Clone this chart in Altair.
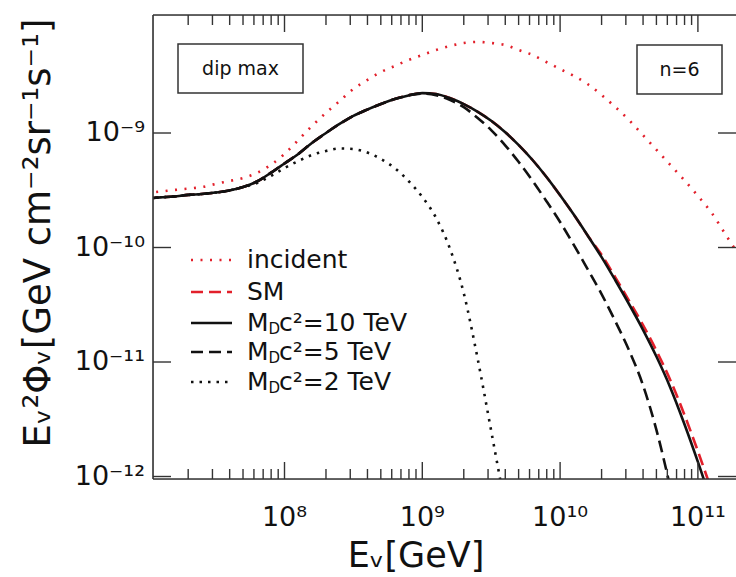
import altair as alt
import pandas as pd

# ---------------- data ----------------
energy_gev = [
    1.00e7, 1.26e7, 1.58e7, 2.00e7, 2.51e7, 3.16e7, 3.98e7, 5.01e7, 6.31e7, 7.94e7,
    1.00e8, 1.26e8, 1.58e8, 2.00e8, 2.51e8, 3.16e8, 3.98e8, 5.01e8, 6.31e8, 7.94e8,
    1.00e9, 1.26e9, 1.58e9, 2.00e9, 2.51e9, 3.16e9, 3.98e9, 5.01e9, 6.31e9, 7.94e9,
    1.00e10, 1.26e10, 1.58e10, 2.00e10, 2.51e10, 3.16e10, 3.98e10, 5.01e10, 6.31e10, 7.94e10,
    1.00e11, 1.26e11, 1.58e11, 2.00e11,
]

flux_incident = [
    2.99e-10, 3.08e-10, 3.18e-10, 3.27e-10, 3.37e-10, 3.59e-10, 3.81e-10, 4.05e-10, 4.48e-10, 5.26e-10,
    6.56e-10, 8.69e-10, 1.15e-9, 1.50e-9, 1.90e-9, 2.42e-9, 2.90e-9, 3.41e-9, 3.85e-9, 4.34e-9,
    4.80e-9, 5.31e-9, 5.75e-9, 6.11e-9, 6.24e-9, 6.11e-9, 5.87e-9, 5.31e-9, 4.80e-9, 4.17e-9,
    3.62e-9, 3.15e-9, 2.68e-9, 2.15e-9, 1.69e-9, 1.30e-9, 9.62e-10, 7.11e-10, 5.26e-10, 3.89e-10,
    2.82e-10, 2.00e-10, 1.31e-10, 8.43e-11,
]

flux_sm = [
    2.68e-10, 2.74e-10, 2.79e-10, 2.88e-10, 2.93e-10, 3.02e-10, 3.15e-10, 3.37e-10, 3.77e-10, 4.48e-10,
    5.42e-10, 6.56e-10, 8.18e-10, 1.00e-9, 1.20e-9, 1.41e-9, 1.60e-9, 1.79e-9, 1.98e-9, 2.13e-9,
    2.23e-9, 2.19e-9, 2.02e-9, 1.79e-9, 1.54e-9, 1.28e-9, 1.02e-9, 7.83e-10, 5.81e-10, 4.15e-10,
    2.86e-10, 1.93e-10, 1.28e-10, 8.63e-11, 5.51e-11, 3.44e-11, 2.12e-11, 1.25e-11, 6.93e-12, 3.52e-12,
    1.66e-12, 7.52e-13, None, None,
]

flux_md10 = [
    2.68e-10, 2.74e-10, 2.79e-10, 2.88e-10, 2.93e-10, 3.02e-10, 3.15e-10, 3.37e-10, 3.77e-10, 4.48e-10,
    5.42e-10, 6.56e-10, 8.18e-10, 1.00e-9, 1.20e-9, 1.41e-9, 1.60e-9, 1.79e-9, 1.98e-9, 2.13e-9,
    2.23e-9, 2.19e-9, 2.02e-9, 1.79e-9, 1.54e-9, 1.28e-9, 1.02e-9, 7.83e-10, 5.81e-10, 4.15e-10,
    2.86e-10, 1.93e-10, 1.28e-10, 8.24e-11, 5.20e-11, 3.21e-11, 1.93e-11, 1.11e-11, 5.97e-12, 2.92e-12,
    1.34e-12, 5.83e-13, None, None,
]

flux_md5 = [
    2.68e-10, 2.74e-10, 2.79e-10, 2.88e-10, 2.93e-10, 3.02e-10, 3.15e-10, 3.37e-10, 3.77e-10, 4.48e-10,
    5.42e-10, 6.56e-10, 8.18e-10, 1.00e-9, 1.20e-9, 1.41e-9, 1.60e-9, 1.79e-9, 1.98e-9, 2.13e-9,
    2.21e-9, 2.14e-9, 1.95e-9, 1.68e-9, 1.36e-9, 1.06e-9, 7.85e-10, 5.58e-10, 3.82e-10, 2.55e-10,
    1.67e-10, 1.05e-10, 6.50e-11, 3.92e-11, 2.28e-11, 1.27e-11, 6.35e-12, 2.53e-12, 8.00e-13, None,
    None, None, None, None,
]

flux_md2 = [
    2.68e-10, 2.74e-10, 2.79e-10, 2.88e-10, 2.93e-10, 3.02e-10, 3.15e-10, 3.37e-10, 3.66e-10, 4.21e-10,
    4.94e-10, 5.69e-10, 6.43e-10, 6.97e-10, 7.33e-10, 7.24e-10, 6.76e-10, 5.93e-10, 4.94e-10, 3.81e-10,
    2.76e-10, 1.81e-10, 9.91e-11, 3.98e-11, 1.10e-11, 2.51e-12, 5.62e-13, None, None, None,
    None, None, None, None, None, None, None, None, None, None,
    None, None, None, None,
]

series_keys = ["incident", "SM", "md10", "md5", "md2"]
series_values = [flux_incident, flux_sm, flux_md10, flux_md5, flux_md2]

x_major_ticks = [1e8, 1e9, 1e10, 1e11]
x_tick_labels = ["10⁸", "10⁹", "10¹⁰", "10¹¹"]
x_minor_multipliers = [2, 3, 4, 5, 6, 7, 8, 9]
x_minor_decades = [1e7, 1e8, 1e9, 1e10]
y_major_ticks = [1e-12, 1e-11, 1e-10, 1e-9]
y_tick_labels = ["10⁻¹²", "10⁻¹¹", "10⁻¹⁰", "10⁻⁹"]

x_title = "Eᵥ[GeV]"
y_title = "Eᵥ²Φᵥ[GeV cm⁻²sr⁻¹s⁻¹]"

# ---------------- layout ----------------
W, H = 583, 464
FONT = "DejaVu Sans"
RED = "#e2202b"
INK = "#111111"
FRAME = "#333333"

X_DOMAIN = [1.111e7, 1.890e11]
Y_DOMAIN = [9.51e-13, 1.073e-8]

rows = []
for key, vals in zip(series_keys, series_values):
    for e, v in zip(energy_gev, vals):
        if v is not None:
            rows.append({"series": key, "energy": e, "flux": v})
df = pd.DataFrame(rows)

x_minor_ticks = [m * d for d in x_minor_decades for m in x_minor_multipliers
                 if X_DOMAIN[0] <= m * d <= X_DOMAIN[1]]
tick_df_xmaj = pd.DataFrame({"v": x_major_ticks, "lab": x_tick_labels})
tick_df_xmin = pd.DataFrame({"v": x_minor_ticks})
tick_df_y = pd.DataFrame({"v": y_major_ticks, "lab": y_tick_labels})
one = pd.DataFrame({"a": [0]})

xs = alt.Scale(type="log", domain=X_DOMAIN, nice=False)
ys = alt.Scale(type="log", domain=Y_DOMAIN, nice=False)


def curve(key, color, width, dash=None):
    kw = dict(color=color, strokeWidth=width, clip=True, interpolate="monotone")
    if dash is not None:
        kw["strokeDash"] = dash
    return alt.Chart(df).transform_filter(alt.datum.series == key).mark_line(**kw).encode(
        x=alt.X("energy:Q", scale=xs, axis=None),
        y=alt.Y("flux:Q", scale=ys, axis=None),
    )


layers = [
    curve("incident", RED, 2.6, [2, 7.5]),
    curve("SM", RED, 2.6, [12, 6]),
    curve("md10", INK, 2.6),
    curve("md5", INK, 2.6, [12, 6]),
    curve("md2", INK, 2.6, [2.5, 6]),
]


# inward ticks on all four sides
def xticks(data, length, top):
    y0 = 0 if top else H
    y1 = length if top else H - length
    return alt.Chart(data).mark_rule(color=FRAME, strokeWidth=1.4).encode(
        x=alt.X("v:Q", scale=xs, axis=None), y=alt.value(y0), y2=alt.value(y1))


def yticks(length, right):
    x0 = W if right else 0
    x1 = W - length if right else length
    return alt.Chart(tick_df_y).mark_rule(color=FRAME, strokeWidth=1.4).encode(
        y=alt.Y("v:Q", scale=ys, axis=None), x=alt.value(x0), x2=alt.value(x1))


layers += [
    xticks(tick_df_xmaj, 17, False), xticks(tick_df_xmin, 10, False),
    xticks(tick_df_xmaj, 17, True), xticks(tick_df_xmin, 10, True),
    yticks(18, False), yticks(18, True),
]

# tick labels (placed through the scales)
layers.append(alt.Chart(tick_df_xmaj).mark_text(
    font=FONT, fontSize=27, color=INK, align="center", baseline="middle").encode(
    x=alt.X("v:Q", scale=xs, axis=None), y=alt.value(H + 39), text="lab:N"))
layers.append(alt.Chart(tick_df_y).mark_text(
    font=FONT, fontSize=27, color=INK, align="right", baseline="middle").encode(
    y=alt.Y("v:Q", scale=ys, axis=None), x=alt.value(-8), text="lab:N"))

# axis titles
layers.append(alt.Chart(one).mark_text(
    font=FONT, fontSize=35, color=INK, align="center", baseline="middle").encode(
    x=alt.value(263), y=alt.value(H + 77), text=alt.value(x_title)))
layers.append(alt.Chart(one).mark_text(
    font=FONT, fontSize=37, color=INK, align="center", baseline="middle", angle=270).encode(
    x=alt.value(-114), y=alt.value(218), text=alt.value(y_title)))

# frame (left, top, bottom)
frame = alt.Chart(one).mark_rule(color=FRAME, strokeWidth=1.6)
layers += [
    frame.encode(x=alt.value(0), y=alt.value(0), y2=alt.value(H)),
    frame.encode(x=alt.value(0), x2=alt.value(W), y=alt.value(0)),
    frame.encode(x=alt.value(0), x2=alt.value(W), y=alt.value(H)),
]


# annotation boxes
def box(x0, x1, y0, y1, text, size):
    r = alt.Chart(one).mark_rect(fill="white", stroke=FRAME, strokeWidth=1.5).encode(
        x=alt.value(x0), x2=alt.value(x1), y=alt.value(y0), y2=alt.value(y1))
    t = alt.Chart(one).mark_text(font=FONT, fontSize=size, color=INK, align="center",
                                 baseline="middle").encode(
        x=alt.value((x0 + x1) / 2), y=alt.value((y0 + y1) / 2), text=alt.value(text))
    return [r, t]


layers += box(25, 150, 29, 78, "dip max", 19)
layers += box(484, 569, 30, 79, "n=6", 19)

# legend (drawn by hand so that M_D can carry a subscript)
legend_entries = [
    ("incident", RED, [2, 7.5], None),
    ("SM", RED, [12, 6], None),
    ("M", INK, None, "c²=10 TeV"),
    ("M", INK, [12, 6], "c²=5 TeV"),
    ("M", INK, [2.5, 6], "c²=2 TeV"),
]
legend_y = [245, 277, 308, 337, 367]
LX0, LX1, TX = 38, 79, 94
LFS = 25
for (label, color, dash, rest), ly in zip(legend_entries, legend_y):
    kw = dict(color=color, strokeWidth=2.6)
    if dash is not None:
        kw["strokeDash"] = dash
    layers.append(alt.Chart(one).mark_rule(**kw).encode(
        x=alt.value(LX0), x2=alt.value(LX1), y=alt.value(ly)))
    layers.append(alt.Chart(one).mark_text(font=FONT, fontSize=LFS, color=INK, align="left",
                                           baseline="middle").encode(
        x=alt.value(TX), y=alt.value(ly), text=alt.value(label)))
    if rest is not None:
        layers.append(alt.Chart(one).mark_text(font=FONT, fontSize=15, color=INK, align="left",
                                               baseline="middle").encode(
            x=alt.value(TX + 21.5), y=alt.value(ly + 6), text=alt.value("D")))
        layers.append(alt.Chart(one).mark_text(font=FONT, fontSize=LFS, color=INK, align="left",
                                               baseline="middle").encode(
            x=alt.value(TX + 32), y=alt.value(ly), text=alt.value(rest)))

chart = alt.layer(*layers).properties(
    width=W, height=H,
    padding={"left": 153, "top": 15, "right": 0, "bottom": 98},
    autosize=alt.AutoSizeParams(type="none"),
    background="white",
).configure_view(stroke=None).configure(font=FONT)

chart.save("out.html", embed_options={"renderer": "svg", "actions": False})
